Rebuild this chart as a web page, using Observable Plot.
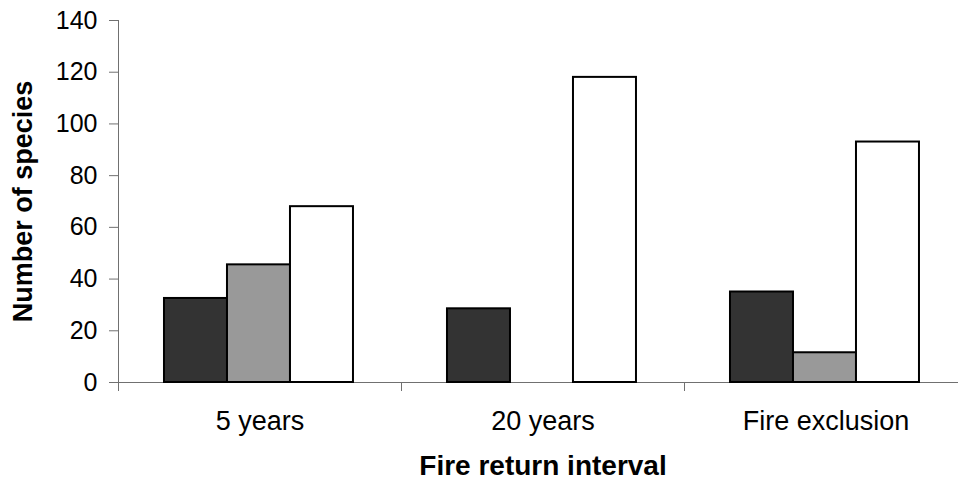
<!DOCTYPE html>
<html><head><meta charset="utf-8">
<script src="https://cdn.jsdelivr.net/npm/d3@7"></script>
<script src="https://cdn.jsdelivr.net/npm/@observablehq/plot@0.6"></script>
<style>
html,body{margin:0;padding:0;background:#fff;}
#chart svg text{fill:#000;}
</style></head><body><div id="chart"></div>
<script>
// Categories (x axis)
const categories = ["5 years", "20 years", "Fire exclusion"];
// Series (no legend in the original): dark, grey, white bars
const seriesNames = ["dark", "grey", "white"];
const darkValues = [32.5, 28.5, 35];
const greyValues = [45.5, 0, 11.5];
const whiteValues = [68, 118, 93];
const seriesValues = [darkValues, greyValues, whiteValues];
const seriesColors = ["#333333", "#999999", "#ffffff"];
const yTicks = [0, 20, 40, 60, 80, 100, 120, 140];
const xTitle = "Fire return interval";
const yTitle = "Number of species";

const rows = categories.flatMap((c, ci) =>
  seriesNames.map((s, si) => ({category: c, ci, series: s, si, value: seriesValues[si][ci]})));

// layout within each category band (fractions of band)
const groupStart = 0.1625, barWidth = 0.2226;

const plot = Plot.plot({
  width: 958, height: 481,
  marginLeft: 118, marginRight: 0, marginTop: 20, marginBottom: 99,
  style: {fontFamily: "'Liberation Sans', Arial, sans-serif", fontSize: "25px", color: "#707070", background: "#fff"},
  x: {domain: [0, 3], range: [118, 967], ticks: [0, 1, 2, 3], tickFormat: () => "", tickSize: 9, line: true, label: null},
  y: {domain: [0, 140], ticks: yTicks, tickSize: 9, tickPadding: 12, line: true, label: null},
  color: {domain: seriesNames, range: seriesColors},
  marks: [
    Plot.rect(rows, {
      filter: d => d.value > 0,
      x1: d => d.ci + groupStart + d.si * barWidth,
      x2: d => d.ci + groupStart + (d.si + 1) * barWidth,
      y1: 0, y2: "value",
      fill: "series", stroke: "#000", strokeWidth: 2
    }),
    Plot.text(categories, {x: (d, i) => i + 0.5, frameAnchor: "bottom", lineAnchor: "middle", dy: 39, fontSize: 27, fill: "#000"}),
    Plot.text([xTitle], {frameAnchor: "bottom", textAnchor: "middle", lineAnchor: "middle", dx: 4.5, dy: 84, fontSize: 28, fontWeight: "bold", fill: "#000"}),
    Plot.text([yTitle], {frameAnchor: "left", textAnchor: "middle", lineAnchor: "middle", rotate: -90, dx: -95, fontSize: 27, fontWeight: "bold", fill: "#000"})
  ]
});
document.getElementById("chart").appendChild(plot);
</script></body></html>
